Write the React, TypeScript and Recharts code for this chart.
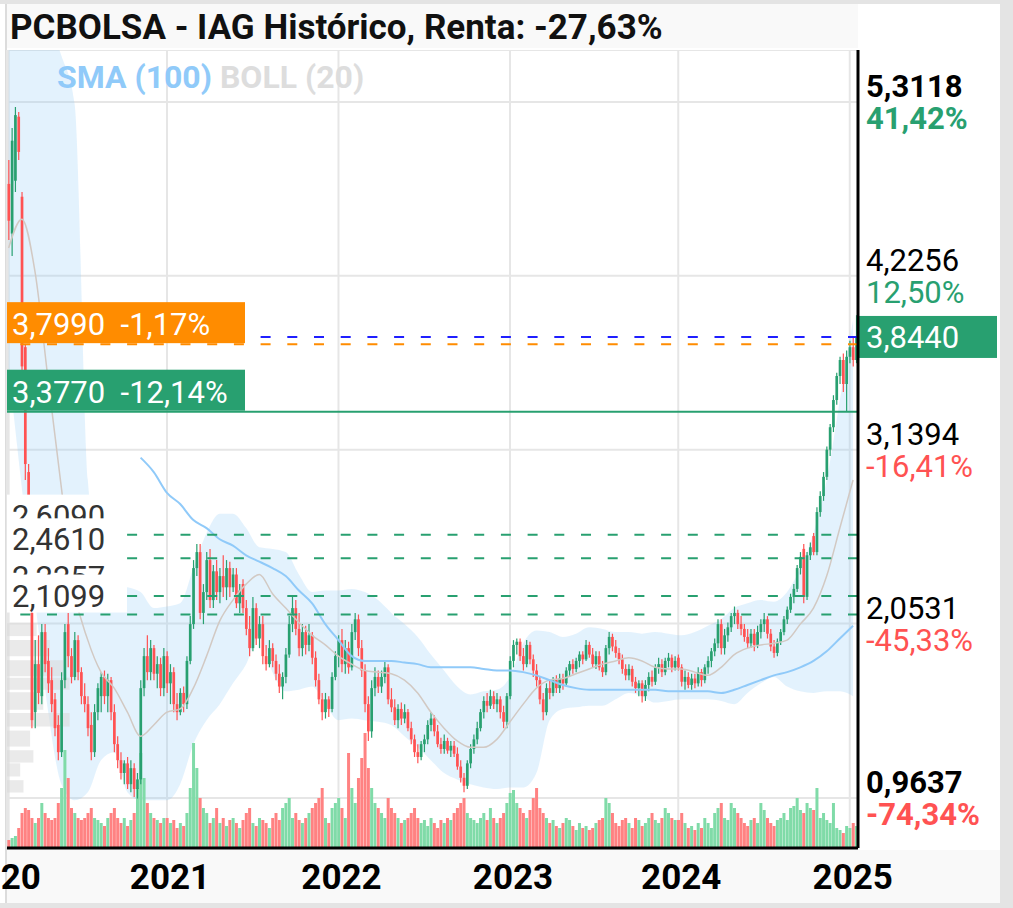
import React from 'react';
import {
  ComposedChart,
  Bar,
  Line,
  Area,
  XAxis,
  YAxis,
  CartesianGrid,
  ReferenceLine,
  ReferenceArea,
  Cell,
} from 'recharts';

const UP = '#28a070';
const DOWN = '#ff5252';
const VOL_UP = '#80dba8';
const VOL_DOWN = '#ff8282';
const FONT = 'Roboto, "Noto Sans", sans-serif';
const DASH = '10 16.7';

// weekly candles: [open, high, low, close, volume]
const years = [2020, 2021, 2022, 2023, 2024, 2025];

const candles2020 = [
  [4.80, 4.95, 4.45, 4.57, 8], [4.49, 5.15, 4.35, 5.07, 10], [4.82, 5.28, 4.75, 5.23, 12], [5.22, 5.25, 4.95, 5.00, 20],
  [4.72, 4.75, 3.55, 3.66, 35], [3.78, 3.80, 2.95, 3.05, 40], [3.00, 3.05, 2.20, 2.30, 38], [2.12, 2.13, 1.40, 1.45, 30],
  [1.50, 1.95, 1.40, 1.80, 25], [1.80, 1.98, 1.55, 1.62, 30], [1.60, 2.05, 1.55, 2.00, 45], [2.00, 2.05, 1.75, 1.80, 35],
  [1.82, 1.90, 1.62, 1.68, 30], [1.70, 1.78, 1.50, 1.55, 28], [1.58, 1.62, 1.35, 1.40, 30], [1.42, 1.48, 1.20, 1.25, 45],
  [1.25, 1.75, 1.22, 1.70, 60], [1.70, 2.05, 1.65, 2.00, 98], [2.05, 2.12, 1.78, 1.85, 70], [1.85, 1.90, 1.68, 1.72, 40],
  [1.72, 2.00, 1.70, 1.95, 35], [1.95, 1.98, 1.70, 1.75, 30], [1.75, 1.78, 1.55, 1.60, 28], [1.60, 1.68, 1.50, 1.55, 30],
  [1.55, 1.60, 1.35, 1.40, 35], [1.42, 1.50, 1.20, 1.25, 40], [1.25, 1.55, 1.22, 1.50, 30], [1.50, 1.68, 1.45, 1.65, 28],
  [1.60, 1.75, 1.50, 1.72, 25], [1.72, 1.76, 1.55, 1.60, 22], [1.60, 1.74, 1.50, 1.70, 30], [1.70, 1.72, 1.45, 1.50, 35],
  [1.50, 1.55, 1.25, 1.30, 40], [1.30, 1.35, 1.15, 1.20, 30], [1.20, 1.25, 1.08, 1.12, 25], [1.12, 1.20, 1.05, 1.18, 30],
  [1.18, 1.22, 1.02, 1.05, 22], [1.05, 1.20, 1.00, 1.15, 28], [1.15, 1.18, 0.97, 1.02, 35], [1.02, 1.12, 0.96, 1.08, 60],
  [1.08, 1.70, 1.05, 1.65, 95], [1.65, 1.90, 1.60, 1.85, 70], [1.85, 1.98, 1.70, 1.75, 45], [1.75, 1.95, 1.70, 1.90, 35],
  [1.90, 1.92, 1.70, 1.74, 30], [1.74, 1.85, 1.65, 1.80, 28], [1.80, 1.84, 1.60, 1.65, 25], [1.65, 1.90, 1.60, 1.85, 30],
];

const candles2021 = [
  [1.85, 1.88, 1.62, 1.68, 30], [1.68, 1.80, 1.55, 1.75, 25], [1.75, 1.78, 1.50, 1.55, 28], [1.55, 1.62, 1.45, 1.50, 20],
  [1.50, 1.65, 1.48, 1.62, 25], [1.62, 1.66, 1.50, 1.55, 22], [1.55, 1.85, 1.52, 1.82, 35], [1.82, 2.10, 1.80, 2.05, 60],
  [2.05, 2.45, 2.02, 2.40, 105], [2.40, 2.55, 2.35, 2.50, 80], [2.50, 2.55, 2.08, 2.12, 50], [2.12, 2.30, 2.05, 2.25, 40],
  [2.25, 2.50, 2.20, 2.45, 35], [2.45, 2.52, 2.15, 2.20, 25], [2.20, 2.42, 2.15, 2.38, 30], [2.38, 2.45, 2.20, 2.25, 40],
  [2.25, 2.40, 2.18, 2.35, 25], [2.35, 2.48, 2.22, 2.28, 30], [2.28, 2.45, 2.20, 2.40, 22], [2.40, 2.44, 2.22, 2.28, 28],
  [2.28, 2.40, 2.25, 2.36, 30], [2.36, 2.40, 2.15, 2.18, 25], [2.18, 2.30, 2.12, 2.26, 20], [2.30, 2.33, 2.12, 2.15, 28],
  [2.15, 2.20, 1.98, 2.02, 35], [2.02, 2.10, 1.85, 1.90, 40], [1.90, 2.22, 1.88, 2.15, 25], [2.15, 2.18, 1.92, 1.96, 22],
  [1.96, 2.10, 1.90, 2.05, 30], [2.05, 2.10, 1.80, 1.85, 28], [1.85, 1.92, 1.76, 1.80, 25], [1.80, 1.95, 1.78, 1.90, 20],
  [1.90, 1.93, 1.78, 1.82, 30], [1.82, 1.86, 1.70, 1.74, 35], [1.74, 1.80, 1.62, 1.66, 28], [1.66, 1.75, 1.58, 1.72, 40],
  [1.72, 1.90, 1.68, 1.86, 45], [1.86, 2.10, 1.84, 2.05, 50], [2.05, 2.22, 2.00, 2.15, 30], [2.15, 2.20, 1.98, 2.02, 35],
  [2.02, 2.12, 1.85, 1.90, 28], [1.90, 2.05, 1.85, 2.00, 25], [2.00, 2.04, 1.86, 1.92, 30], [1.92, 2.05, 1.88, 1.98, 35],
  [1.98, 2.00, 1.80, 1.84, 40], [1.84, 1.88, 1.66, 1.70, 45], [1.70, 1.74, 1.55, 1.58, 50], [1.58, 1.62, 1.45, 1.50, 60],
  [1.50, 1.62, 1.46, 1.58, 30], [1.58, 1.60, 1.47, 1.52, 25], [1.52, 1.75, 1.50, 1.72, 40], [1.72, 1.88, 1.70, 1.85, 45],
];

const candles2022 = [
  [1.85, 1.98, 1.78, 1.95, 50], [1.95, 2.02, 1.75, 1.80, 40], [1.80, 1.95, 1.74, 1.90, 30], [1.90, 1.94, 1.74, 1.78, 95],
  [1.78, 2.05, 1.76, 2.00, 60], [2.00, 2.12, 1.95, 2.08, 45], [2.08, 2.11, 1.85, 1.90, 70], [1.90, 1.95, 1.72, 1.76, 90],
  [1.76, 1.80, 1.50, 1.55, 115], [1.55, 1.60, 1.32, 1.38, 80], [1.38, 1.70, 1.34, 1.65, 60], [1.65, 1.78, 1.60, 1.72, 45],
  [1.72, 1.76, 1.62, 1.66, 40], [1.66, 1.76, 1.62, 1.72, 35], [1.72, 1.82, 1.68, 1.78, 30], [1.78, 1.80, 1.55, 1.58, 50],
  [1.58, 1.65, 1.50, 1.53, 40], [1.53, 1.58, 1.42, 1.45, 35], [1.45, 1.55, 1.40, 1.52, 30], [1.52, 1.56, 1.42, 1.46, 25],
  [1.46, 1.55, 1.43, 1.50, 28], [1.50, 1.52, 1.38, 1.40, 30], [1.40, 1.44, 1.30, 1.33, 35], [1.33, 1.36, 1.22, 1.25, 40],
  [1.25, 1.30, 1.18, 1.22, 30], [1.22, 1.32, 1.20, 1.30, 25], [1.30, 1.36, 1.25, 1.33, 28], [1.33, 1.45, 1.30, 1.42, 22],
  [1.42, 1.50, 1.38, 1.46, 30], [1.46, 1.48, 1.35, 1.38, 25], [1.38, 1.42, 1.28, 1.30, 20], [1.30, 1.34, 1.24, 1.27, 28],
  [1.27, 1.36, 1.24, 1.32, 25], [1.32, 1.34, 1.24, 1.26, 30], [1.26, 1.32, 1.22, 1.29, 28], [1.29, 1.32, 1.22, 1.24, 35],
  [1.24, 1.28, 1.14, 1.16, 40], [1.16, 1.20, 1.06, 1.09, 45], [1.09, 1.12, 1.00, 1.04, 50], [1.04, 1.20, 1.02, 1.18, 35],
  [1.18, 1.30, 1.15, 1.27, 30], [1.27, 1.36, 1.24, 1.33, 28], [1.33, 1.44, 1.30, 1.40, 25], [1.40, 1.52, 1.38, 1.50, 30],
  [1.50, 1.60, 1.46, 1.57, 35], [1.57, 1.62, 1.50, 1.54, 28], [1.54, 1.64, 1.52, 1.60, 40], [1.60, 1.63, 1.52, 1.55, 30],
  [1.55, 1.62, 1.50, 1.58, 25], [1.58, 1.60, 1.46, 1.50, 30], [1.50, 1.54, 1.40, 1.44, 35], [1.44, 1.62, 1.40, 1.60, 45],
];

const candles2023 = [
  [1.60, 1.85, 1.58, 1.82, 55], [1.82, 1.95, 1.78, 1.92, 58], [1.92, 1.96, 1.86, 1.94, 45], [1.94, 1.96, 1.82, 1.85, 40],
  [1.85, 1.90, 1.76, 1.80, 35], [1.80, 1.95, 1.78, 1.92, 30], [1.92, 1.94, 1.80, 1.83, 38], [1.83, 1.86, 1.72, 1.76, 50],
  [1.76, 1.80, 1.66, 1.70, 60], [1.70, 1.72, 1.55, 1.58, 40], [1.58, 1.62, 1.45, 1.50, 35], [1.50, 1.68, 1.48, 1.65, 30],
  [1.65, 1.70, 1.58, 1.62, 25], [1.62, 1.72, 1.60, 1.70, 28], [1.70, 1.73, 1.62, 1.65, 22], [1.65, 1.74, 1.62, 1.71, 20],
  [1.71, 1.74, 1.64, 1.68, 25], [1.68, 1.78, 1.66, 1.76, 30], [1.76, 1.82, 1.72, 1.80, 28], [1.80, 1.83, 1.74, 1.77, 22],
  [1.77, 1.84, 1.75, 1.82, 18], [1.82, 1.88, 1.78, 1.86, 25], [1.86, 1.88, 1.80, 1.83, 20], [1.83, 1.95, 1.82, 1.92, 22],
  [1.92, 1.94, 1.84, 1.86, 18], [1.86, 1.90, 1.78, 1.80, 20], [1.80, 1.88, 1.77, 1.85, 25], [1.85, 1.88, 1.76, 1.78, 28],
  [1.78, 1.82, 1.72, 1.75, 30], [1.75, 1.92, 1.73, 1.90, 50], [1.90, 2.00, 1.86, 1.97, 45], [1.97, 1.99, 1.88, 1.91, 35],
  [1.91, 1.95, 1.84, 1.87, 25], [1.87, 1.90, 1.80, 1.83, 22], [1.83, 1.86, 1.74, 1.77, 28], [1.77, 1.80, 1.70, 1.73, 30],
  [1.73, 1.80, 1.70, 1.77, 25], [1.77, 1.79, 1.66, 1.69, 20], [1.69, 1.72, 1.62, 1.65, 30], [1.65, 1.70, 1.60, 1.68, 28],
  [1.68, 1.70, 1.56, 1.60, 22], [1.60, 1.70, 1.57, 1.67, 25], [1.67, 1.75, 1.63, 1.72, 30], [1.72, 1.76, 1.66, 1.69, 35],
  [1.69, 1.80, 1.67, 1.78, 28], [1.78, 1.84, 1.74, 1.80, 25], [1.80, 1.83, 1.72, 1.75, 30], [1.75, 1.84, 1.73, 1.82, 40],
  [1.82, 1.87, 1.78, 1.84, 35], [1.84, 1.86, 1.75, 1.78, 30], [1.78, 1.85, 1.76, 1.82, 28],
];

const candles2024 = [
  [1.84, 1.86, 1.76, 1.78, 28], [1.78, 1.80, 1.66, 1.69, 35], [1.69, 1.76, 1.64, 1.72, 25], [1.72, 1.75, 1.65, 1.67, 20],
  [1.67, 1.74, 1.64, 1.71, 22], [1.71, 1.74, 1.65, 1.68, 18], [1.68, 1.78, 1.66, 1.75, 25], [1.75, 1.77, 1.66, 1.70, 20],
  [1.70, 1.80, 1.68, 1.78, 30], [1.78, 1.85, 1.74, 1.82, 25], [1.82, 1.90, 1.78, 1.88, 20], [1.88, 1.96, 1.85, 1.93, 35],
  [1.93, 2.08, 1.90, 2.05, 40], [2.05, 2.08, 1.86, 1.90, 45], [1.90, 2.02, 1.86, 1.98, 30], [1.98, 2.06, 1.94, 2.03, 28],
  [2.03, 2.12, 2.00, 2.10, 45], [2.10, 2.16, 2.05, 2.12, 40], [2.12, 2.14, 2.02, 2.05, 35], [2.05, 2.10, 1.98, 2.02, 30],
  [2.02, 2.05, 1.94, 1.97, 25], [1.97, 2.02, 1.90, 1.93, 22], [1.93, 2.02, 1.90, 1.99, 28], [1.99, 2.02, 1.88, 1.92, 30],
  [1.92, 2.04, 1.90, 2.00, 25], [2.00, 2.08, 1.96, 2.05, 45], [2.05, 2.12, 2.00, 2.08, 38], [2.08, 2.10, 1.96, 1.99, 30],
  [1.99, 2.02, 1.88, 1.91, 25], [1.91, 1.95, 1.84, 1.87, 22], [1.87, 1.96, 1.85, 1.94, 28], [1.94, 2.02, 1.92, 2.00, 30],
  [2.00, 2.10, 1.98, 2.08, 35], [2.08, 2.16, 2.05, 2.14, 28], [2.14, 2.24, 2.12, 2.22, 40], [2.22, 2.30, 2.18, 2.27, 42],
  [2.27, 2.42, 2.25, 2.40, 50], [2.40, 2.50, 2.36, 2.47, 38], [2.52, 2.55, 2.18, 2.22, 35], [2.22, 2.50, 2.20, 2.48, 45],
  [2.48, 2.56, 2.45, 2.53, 40], [2.60, 2.62, 2.48, 2.50, 38], [2.50, 2.78, 2.48, 2.75, 60], [2.75, 2.88, 2.72, 2.85, 30],
  [2.85, 3.00, 2.82, 2.97, 35], [2.97, 3.16, 2.95, 3.14, 28], [3.14, 3.30, 3.10, 3.28, 25], [3.28, 3.48, 3.25, 3.45, 45],
  [3.45, 3.62, 3.42, 3.60, 20], [3.60, 3.72, 3.55, 3.70, 18], [3.70, 3.74, 3.50, 3.55, 15], [3.55, 3.76, 3.38, 3.72, 22],
];

const candles2025 = [
  [3.72, 3.82, 3.68, 3.78, 20], [3.78, 3.84, 3.66, 3.70, 25], [3.70, 3.98, 3.68, 3.844, 22],
];

const candlesByYear = [candles2020, candles2021, candles2022, candles2023, candles2024, candles2025];

// indicator readings, one every 4th candle
const bollUpper = [
  5.9, 6.0, 6.0, 5.8, 5.6, 5.3, 2.95, 2.40, 2.30, 2.28, 2.25, 2.15, 2.16, 2.18, 2.40, 2.62, 2.74,
  2.74, 2.65, 2.53, 2.52, 2.50, 2.36, 2.25, 2.26, 2.26, 2.27, 2.25, 2.20, 2.12, 2.05, 1.97, 1.86,
  1.76, 1.66, 1.61, 1.63, 1.64, 1.72, 1.93, 2.01, 2.00, 1.97, 1.99, 2.03, 2.02, 2.00, 2.00, 1.99,
  2.00, 1.99, 1.98, 2.00, 2.04, 2.08, 2.15, 2.18, 2.20, 2.19, 2.25, 2.40, 2.62, 2.95, 3.45, 3.95,
];
const bollLower = [
  3.65, 2.9, 2.2, 1.5, 1.05, 0.95, 1.0, 1.2, 1.25, 1.0, 0.95, 0.95, 0.95, 1.05, 1.3, 1.45, 1.55,
  1.68, 1.80, 1.98, 1.75, 1.63, 1.64, 1.66, 1.55, 1.45, 1.46, 1.45, 1.44, 1.42, 1.35, 1.28, 1.20,
  1.12, 1.08, 1.05, 1.03, 1.02, 1.03, 1.03, 1.12, 1.45, 1.52, 1.53, 1.54, 1.54, 1.58, 1.62, 1.60,
  1.56, 1.57, 1.58, 1.58, 1.58, 1.57, 1.55, 1.62, 1.68, 1.72, 1.66, 1.63, 1.62, 1.63, 1.63, 1.60,
];
const bollMid = [
  4.40, 4.58, 4.25, 3.57, 2.90, 2.25, 1.95, 1.75, 1.65, 1.50, 1.35, 1.42, 1.50, 1.52, 1.65, 1.85, 2.07,
  2.20, 2.30, 2.36, 2.24, 2.15, 2.06, 1.98, 1.92, 1.85, 1.80, 1.76, 1.75, 1.74, 1.70, 1.62, 1.50,
  1.40, 1.32, 1.28, 1.28, 1.33, 1.44, 1.55, 1.65, 1.70, 1.71, 1.74, 1.77, 1.80, 1.82, 1.84, 1.82,
  1.78, 1.77, 1.77, 1.75, 1.73, 1.78, 1.86, 1.90, 1.92, 1.93, 1.95, 2.05, 2.15, 2.35, 2.65, 2.95,
];
const sma100 = [
  null, null, null, null, null, null, null, null, null, null, 3.09, 3.00, 2.87, 2.80, 2.70, 2.65, 2.58,
  2.54, 2.48, 2.44, 2.40, 2.35, 2.26, 2.18, 2.05, 1.95, 1.85, 1.82, 1.82, 1.82, 1.81, 1.80, 1.78,
  1.78, 1.78, 1.78, 1.77, 1.76, 1.76, 1.75, 1.73, 1.70, 1.67, 1.65, 1.64, 1.64, 1.64, 1.64, 1.64,
  1.64, 1.63, 1.63, 1.63, 1.63, 1.62, 1.64, 1.67, 1.70, 1.73, 1.75, 1.78, 1.82, 1.88, 1.96, 2.04,
];

// volume by price on the left edge: [low, high, weeks of width]
const profileBins = [
  [1.975, 2.055, 8], [1.850, 1.950, 12], [1.725, 1.825, 16], [1.640, 1.715, 18], [1.515, 1.625, 10],
  [1.410, 1.495, 18], [1.285, 1.385, 6], [1.185, 1.262, 7], [1.098, 1.180, 3], [0.998, 1.075, 4],
];

const yTicks = [0.9637, 2.0531, 3.1394, 4.2256, 5.3118];
const yTickPct = ['-74,34%', '-45,33%', '-16,41%', '12,50%', '41,42%'];
const levels = [2.609, 2.461, 2.2257, 2.1099];
const levelLabels = ['2,6090', '2,4610', '2,2257', '2,1099'];
const lastPrice = 3.844;
const orangeLevel = { value: 3.799, text: '3,7990\u00a0 -1,17%' };
const greenLevel = { value: 3.377, text: '3,3770\u00a0 -12,14%' };

type Row = {
  d: string; o: number; h: number; l: number; c: number; v: number;
  bu?: number; bl?: number; bm?: number; sma?: number | null;
};

const rows: Row[] = [];
years.forEach((yr, yi) => {
  candlesByYear[yi].forEach((k, n) => {
    rows.push({ d: `${yr}-${n}`, o: k[0], h: k[1], l: k[2], c: k[3], v: k[4] });
  });
});
rows.forEach((r, i) => {
  if (i % 4 === 0) {
    const j = i / 4;
    r.bu = bollUpper[j];
    r.bl = bollLower[j];
    r.bm = bollMid[j];
    r.sma = sma100[j];
  }
});

const fmt = (v: number) => v.toFixed(4).replace('.', ',');

const Candle = (props: any) => {
  const { x, y, width, height, payload } = props;
  if (!payload) return null;
  const { o, h, l, c } = payload;
  const color = c >= o ? UP : DOWN;
  const top = Math.min(y, y + height);
  const hh = Math.abs(height);
  const span = h - l || 1;
  const yO = top + ((h - o) / span) * hh;
  const yC = top + ((h - c) / span) * hh;
  const cx = x + width / 2;
  const bw = Math.max(1.5, width * 0.9);
  return (
    <g>
      <line x1={cx} x2={cx} y1={top} y2={top + hh} stroke={color} strokeWidth={1.2} />
      <rect x={cx - bw / 2} y={Math.min(yO, yC)} width={bw} height={Math.max(1, Math.abs(yO - yC))} fill={color} />
    </g>
  );
};

const YearTick = (props: any) => {
  const { x, payload, index } = props;
  const yr = String(payload.value).slice(0, 4);
  return (
    <text x={x + (index === 0 ? -8 : 3)} y={839} textAnchor="middle" fontSize={35} fontWeight={700} fill="#000" fontFamily={FONT}>
      {yr}
    </text>
  );
};

const PriceTick = (props: any) => {
  const { y, payload } = props;
  const i = yTicks.indexOf(payload.value);
  if (i < 0) return null;
  const edge = i === 0 || i === yTicks.length - 1;
  const pct = yTickPct[i];
  return (
    <g fontFamily={FONT} fontSize={31} fontWeight={edge ? 700 : 400}>
      <text x={866} y={y - 5} fill="#000">{fmt(payload.value)}</text>
      <text x={866} y={y + 27} fill={pct.startsWith('-') ? DOWN : UP}>{pct}</text>
    </g>
  );
};

const levelTag = (text: string) => (p: any) => {
  const vb = p.viewBox || {};
  return (
    <g>
      <rect x={vb.x} y={vb.y - 40} width={120} height={38} fill="#fff" />
      <text x={vb.x + 5} y={vb.y - 8} fontSize={31} fill="#333" fontFamily={FONT}>{text}</text>
    </g>
  );
};

const boxTag = (text: string, fill: string) => (p: any) => {
  const vb = p.viewBox || {};
  return (
    <g>
      <rect x={vb.x} y={vb.y - 42} width={238} height={41} fill={fill} />
      <text x={vb.x + 5} y={vb.y - 9} fontSize={31} fill="#fff" fontFamily={FONT}>{text}</text>
    </g>
  );
};

const lastTag = (p: any) => {
  const vb = p.viewBox || {};
  const x0 = (vb.x || 0) + (vb.width || 0);
  return (
    <g>
      <rect x={x0} y={vb.y - 21} width={139} height={42} fill={UP} />
      <text x={x0 + 8} y={vb.y + 11} fontSize={31} fill="#fff" fontFamily={FONT}>{fmt(lastPrice)}</text>
    </g>
  );
};

export default function App() {
  return (
    <div style={{ position: 'absolute', left: 0, top: 0, width: 1013, height: 908, background: '#fff', overflow: 'hidden', fontFamily: FONT }}>
      <div style={{ position: 'absolute', left: 0, top: 0, width: 1013, height: 4, background: '#e4e4e4' }} />
      <div style={{ position: 'absolute', left: 1000, top: 0, width: 13, height: 908, background: '#e4e4e4' }} />
      <div style={{ position: 'absolute', left: 0, top: 903, width: 1013, height: 5, background: '#e4e4e4' }} />
      <div style={{ position: 'absolute', left: 5, top: 4, width: 853, height: 44, background: '#f9f9f9' }} />
      <div style={{ position: 'absolute', left: 5, top: 850, width: 995, height: 53, background: '#f9f9f9' }} />
      <div style={{ position: 'absolute', left: 5, top: 4, width: 2, height: 899, background: '#dcdcdc' }} />
      <div style={{ position: 'absolute', left: 10, top: 8, fontSize: 35, fontWeight: 700, color: '#111', lineHeight: '40px', whiteSpace: 'nowrap' }}>
        PCBOLSA - IAG Histórico, Renta: -27,63%
      </div>
      <div style={{ position: 'absolute', left: 0, top: 50 }}>
        <ComposedChart width={1000} height={850} data={rows} margin={{ top: 0, right: 0, bottom: 0, left: 7 }} barCategoryGap="10%">
          <CartesianGrid stroke="#e6e6e6" strokeWidth={2} />
          <XAxis
            dataKey="d"
            ticks={years.map((y) => `${y}-0`)}
            interval={0}
            height={52}
            tick={<YearTick />}
            tickLine={false}
            axisLine={{ stroke: '#000', strokeWidth: 3 }}
          />
          <XAxis xAxisId="vx" dataKey="d" hide />
          <YAxis
            orientation="right"
            width={142}
            domain={[0.6513, 5.6367]}
            ticks={yTicks}
            allowDataOverflow
            tick={<PriceTick />}
            tickLine={false}
            tickSize={0}
            axisLine={{ stroke: '#000', strokeWidth: 3 }}
          />
          <YAxis yAxisId="v" domain={[0, 798]} hide />
          <Area
            dataKey={(r: Row) => (r.bu == null ? null : [r.bl, r.bu])}
            type="monotone"
            fill="#90caf9"
            fillOpacity={0.25}
            stroke="none"
            connectNulls
            isAnimationActive={false}
          />
          {profileBins.map((b, i) => (
            <ReferenceArea key={i} x1={rows[0].d} x2={rows[b[2]].d} y1={b[0]} y2={b[1]} fill="#d9d9d9" fillOpacity={0.55} stroke="none" />
          ))}
          <Line dataKey="bm" type="monotone" stroke="#d2c9c3" strokeWidth={1.5} dot={false} connectNulls isAnimationActive={false} />
          <Line dataKey="sma" type="monotone" stroke="#90caf9" strokeWidth={2} dot={false} connectNulls isAnimationActive={false} />
          <Bar xAxisId="vx" yAxisId="v" dataKey="v" isAnimationActive={false}>
            {rows.map((r, i) => (
              <Cell key={i} fill={r.c >= r.o ? VOL_UP : VOL_DOWN} />
            ))}
          </Bar>
          <Bar dataKey={(r: Row) => [r.l, r.h]} shape={<Candle />} isAnimationActive={false} />
          <ReferenceLine y={lastPrice} stroke="#1f1fff" strokeWidth={2} strokeDasharray={DASH} label={lastTag} />
          <ReferenceLine y={orangeLevel.value} stroke="#ff8c00" strokeWidth={2} strokeDasharray={DASH} label={boxTag(orangeLevel.text, '#ff8c00')} />
          <ReferenceLine y={greenLevel.value} stroke={UP} strokeWidth={2} label={boxTag(greenLevel.text, UP)} />
          {levels.map((lv, i) => (
            <ReferenceLine key={lv} y={lv} stroke={UP} strokeWidth={2} strokeDasharray={DASH} label={levelTag(levelLabels[i])} />
          ))}
        </ComposedChart>
      </div>
      <div style={{ position: 'absolute', left: 57, top: 60, fontSize: 32, fontWeight: 700, lineHeight: '34px', whiteSpace: 'nowrap' }}>
        <span style={{ color: '#90caf9' }}>SMA (100)</span> <span style={{ color: '#dddddd' }}>BOLL (20)</span>
      </div>
    </div>
  );
}
